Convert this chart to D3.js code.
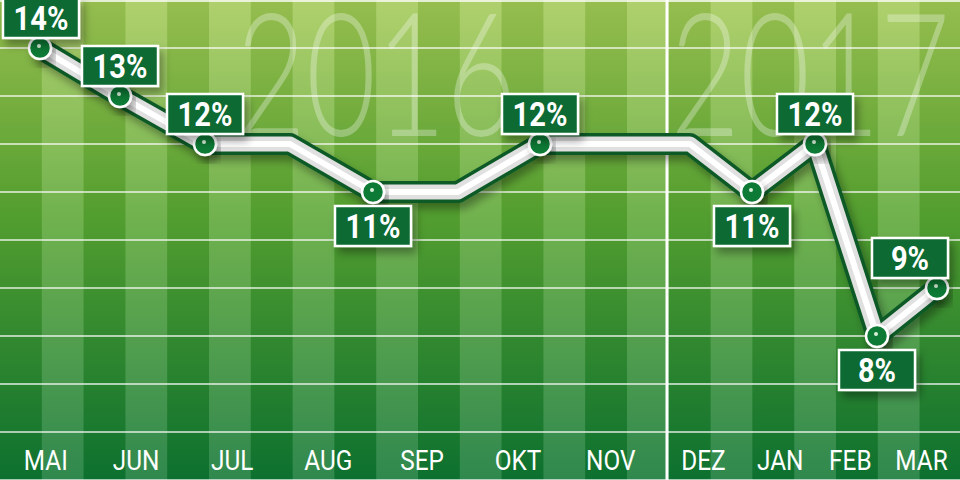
<!DOCTYPE html>
<html><head><meta charset="utf-8">
<script src="https://cdn.jsdelivr.net/npm/d3@7"></script>
<style>body{margin:0;background:#fff}svg{display:block}</style>
</head><body>
<svg width="960" height="480"></svg>
<script>
// Monthly values (percent)
var months = ["MAI","JUN","JUL","AUG","SEP","OKT","NOV","DEZ","JAN","FEB","MAR","APR","MAI"];
var values = [14, 13, 12, 12, 11, 11, 12, 12, 12, 11, 12, 8, 9];
var labelX = [40, 120, 205, 290, 373, 458, 540, 622, 690, 752, 815, 877, 937];
var markers = [0, 1, 2, 4, 6, 9, 10, 11, 12];
var below = [4, 9, 11];
var years = ["2016", "2017"];

var svg = d3.select("svg"), W = 960, H = 480;
var defs = svg.append("defs");
var bg = defs.append("linearGradient").attr("id","bg").attr("x1",0).attr("y1",0).attr("x2",0).attr("y2",1);
bg.append("stop").attr("offset","0%").attr("stop-color","#a3c955");
bg.append("stop").attr("offset","45%").attr("stop-color","#5aa632");
bg.append("stop").attr("offset","100%").attr("stop-color","#0e7532");
var sh = defs.append("filter").attr("id","sh").attr("x","-20%").attr("y","-20%").attr("width","140%").attr("height","160%");
sh.append("feDropShadow").attr("dx",4).attr("dy",6).attr("stdDeviation",4).attr("flood-color","#000").attr("flood-opacity",0.35);

svg.append("rect").attr("width",W).attr("height",H).attr("fill","url(#bg)");

// vertical stripes
var sw = 41.8;
svg.append("g").selectAll("rect").data(d3.range(0, 24)).enter().append("rect")
  .attr("x", d => d * sw).attr("y", 0).attr("width", sw).attr("height", H)
  .attr("fill", d => d % 2 ? "#ffffff" : "#003a10")
  .attr("opacity", d => d % 2 ? 0.14 : 0.08);

var x = d3.scaleLinear().domain(d3.range(months.length)).range(labelX);
var y = d3.scaleLinear().domain([14, 8]).range([48, 336]);

// horizontal grid
svg.append("g").selectAll("line").data(d3.range(5, 15)).enter().append("line")
  .attr("x1", 0).attr("x2", W).attr("y1", d => y(d)).attr("y2", d => y(d))
  .attr("stroke", "#fff").attr("stroke-width", 1.5).attr("opacity", 0.85);
svg.append("line").attr("x1", 0).attr("x2", W).attr("y1", 1).attr("y2", 1)
  .attr("stroke", "#fff").attr("stroke-width", 1.5);

// divider between years
svg.append("line").attr("x1", 667).attr("x2", 667).attr("y1", 0).attr("y2", H)
  .attr("stroke", "#fff").attr("stroke-width", 3);

// year labels
svg.append("g").selectAll("text").data(years).enter().append("text")
  .attr("x", (d, i) => i ? 810 : 376).attr("y", 136)
  .attr("text-anchor", "middle")
  .attr("font-family", "Lato").attr("font-weight", 300).attr("font-size", 172)
  .attr("textLength", 280).attr("lengthAdjust", "spacingAndGlyphs")
  .attr("fill", "#fff").attr("fill-opacity", 0.3)
  .text(d => d);

// line
var line = d3.line().x((d, i) => x(i)).y(d => y(d));
svg.append("path").datum(values).attr("d", line).attr("fill","none")
  .attr("stroke","#0b5a28").attr("stroke-width",22).attr("stroke-linejoin","round").attr("filter","url(#sh)");
svg.append("path").datum(values).attr("d", line).attr("fill","none")
  .attr("stroke","#e0e0e0").attr("stroke-width",15).attr("stroke-linejoin","round");
svg.append("path").datum(values).attr("d", line).attr("fill","none")
  .attr("stroke","#fff").attr("stroke-width",6).attr("stroke-linejoin","round");

// markers
var mk = svg.append("g").selectAll("g").data(markers).enter().append("g")
  .attr("transform", i => "translate(" + x(i) + "," + y(values[i]) + ")");
mk.append("circle").attr("r", 11).attr("fill", "#0e7a36").attr("stroke", "#fff").attr("stroke-width", 2.5).attr("filter","url(#sh)");
mk.append("circle").attr("r", 2).attr("cx", -1).attr("cy", -2).attr("fill", "#d8f0d8");

// value boxes
var bw = 76, bh = 40;
var lb = svg.append("g").selectAll("g").data(markers).enter().append("g")
  .attr("transform", i => {
    var bx = Math.min(Math.max(x(i), bw / 2 + 3), W - bw / 2 - 12);
    var by = below.indexOf(i) >= 0 ? y(values[i]) + 34 : y(values[i]) - 30;
    return "translate(" + bx + "," + by + ")";
  });
lb.append("rect").attr("x", -bw / 2).attr("y", -bh / 2).attr("width", bw).attr("height", bh)
  .attr("fill", "#0a6a32").attr("stroke", "#fff").attr("stroke-width", 2.5).attr("filter","url(#sh)");
lb.append("text").attr("text-anchor", "middle").attr("y", 12)
  .attr("transform", "scale(0.88,1)")
  .attr("font-family", "Roboto").attr("font-weight", "bold").attr("font-size", 33)
  .attr("fill", "#fff").text(i => values[i] + "%");

// month axis
var axis = svg.append("g").attr("transform", "translate(0,470)")
  .call(d3.axisBottom(x).tickValues(d3.range(months.length)).tickFormat(i => months[i]).tickSize(0));
axis.select(".domain").remove();
axis.selectAll("text").attr("y", 0).attr("dy", 0).attr("fill", "#fff")
  .attr("font-family", "Roboto").attr("font-size", 28)
  .attr("transform", function() { return "translate(" + (+d3.select(this.parentNode).attr("transform").match(/\(([^,]+)/)[1] * 0.13) + ",0) scale(0.87,1)"; });
</script>
</body></html>
